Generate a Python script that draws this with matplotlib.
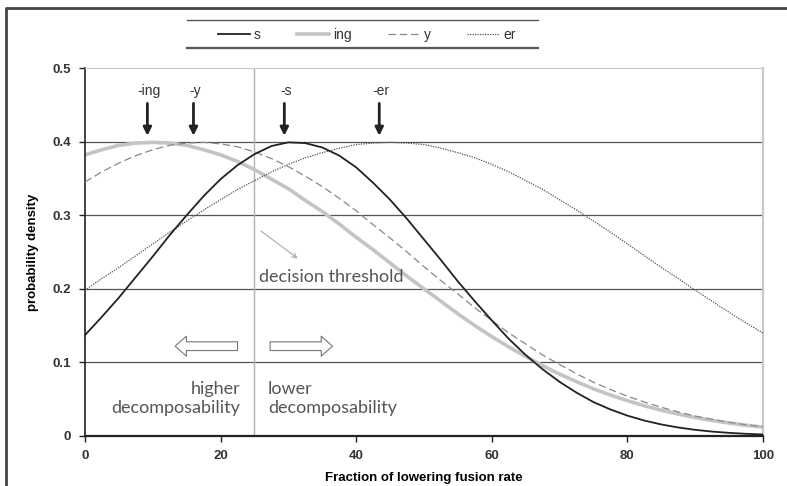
import numpy as np
import matplotlib
matplotlib.use('Agg')
import matplotlib.pyplot as plt
from matplotlib.lines import Line2D

# fraction of lowering fusion rate (x) and densities
x = [0, 2.5, 5, 7.5, 10, 12.5, 15, 17.5, 20, 22.5, 25, 27.5, 30, 32.5, 35, 37.5, 40,
     42.5, 45, 47.5, 50, 52.5, 55, 57.5, 60, 62.5, 65, 67.5, 70, 72.5, 75, 77.5, 80,
     82.5, 85, 87.5, 90, 92.5, 95, 97.5, 100]
s = [0.137, 0.162, 0.188, 0.216, 0.244, 0.273, 0.300, 0.326, 0.349, 0.368, 0.383,
     0.394, 0.399, 0.398, 0.392, 0.381, 0.365, 0.344, 0.321, 0.295, 0.267, 0.239,
     0.210, 0.183, 0.157, 0.132, 0.110, 0.0906, 0.0735, 0.0588, 0.046, 0.036, 0.0276,
     0.0209, 0.0156, 0.0115, 0.0083, 0.0059, 0.0042, 0.0029, 0.0020]
ing = [0.382, 0.389, 0.395, 0.398, 0.399, 0.398, 0.395, 0.389, 0.382, 0.373, 0.362,
       0.349, 0.336, 0.320, 0.305, 0.288, 0.270, 0.253, 0.235, 0.217, 0.200, 0.183,
       0.166, 0.150, 0.135, 0.121, 0.108, 0.0955, 0.084, 0.0737, 0.064, 0.0556, 0.048,
       0.041, 0.035, 0.0297, 0.025, 0.021, 0.0175, 0.0145, 0.012]
y = [0.345, 0.359, 0.371, 0.381, 0.389, 0.395, 0.398, 0.399, 0.397, 0.393, 0.386,
     0.377, 0.366, 0.353, 0.339, 0.323, 0.306, 0.287, 0.269, 0.250, 0.230, 0.211,
     0.193, 0.174, 0.157, 0.140, 0.125, 0.110, 0.097, 0.0845, 0.073, 0.063, 0.054,
     0.046, 0.039, 0.0326, 0.027, 0.0226, 0.0186, 0.0152, 0.0124]
er = [0.198, 0.214, 0.229, 0.245, 0.261, 0.277, 0.292, 0.307, 0.321, 0.335, 0.347,
      0.359, 0.369, 0.378, 0.385, 0.391, 0.396, 0.398, 0.399, 0.398, 0.396, 0.391,
      0.385, 0.378, 0.369, 0.359, 0.347, 0.335, 0.321, 0.307, 0.292, 0.277, 0.261,
      0.245, 0.229, 0.214, 0.198, 0.183, 0.168, 0.1535, 0.140]

peak_labels = ['-ing', '-y', '-s', '-er']
peak_x = [9.2, 16.0, 29.4, 43.4]
threshold = 25

f = plt.figure(figsize=(7.87, 4.86), dpi=100)
ax = f.add_axes([0.108, 0.103, 0.8615, 0.757])

for g in [0.1, 0.2, 0.3, 0.4]:
    ax.axhline(g, c='#555555', lw=0.9, zorder=1)
ax.axvline(threshold, c='#b0b0b0', lw=1.0, zorder=1)

ax.plot(x, ing, c='#c4c4c4', lw=2.6, label='ing', zorder=2)
ax.plot(x, y, c='#888888', lw=0.9, ls=(0, (6, 3)), label='y', zorder=3)
ax.plot(x, er, c='#555555', lw=0.9, ls=(0, (1, 1)), label='er', zorder=3)
ax.plot(x, s, c='#222222', lw=1.3, label='s', zorder=4)

ax.set_xlim(0, 100)
ax.set_ylim(0, 0.5)
ax.set_xticks([0, 20, 40, 60, 80, 100])
ax.set_yticks([0, 0.1, 0.2, 0.3, 0.4, 0.5])
ax.set_yticklabels(['0', '0.1', '0.2', '0.3', '0.4', '0.5'])
ax.tick_params(direction='out', length=4, width=1, colors='#222222', labelsize=9.5, pad=6)
for lab in ax.get_xticklabels() + ax.get_yticklabels():
    lab.set_fontweight('bold')
    lab.set_color('#333333')
    lab.set_family('Liberation Sans')
ax.spines['left'].set_color('#222222')
ax.spines['bottom'].set_color('#222222')
ax.spines['left'].set_linewidth(1.2)
ax.spines['bottom'].set_linewidth(1.6)
ax.spines['top'].set_color('#c8c8c8')
ax.spines['right'].set_color('#c8c8c8')
ax.spines['right'].set_linewidth(1.5)

ax.set_xlabel('Fraction of lowering fusion rate', fontsize=9.5, fontweight='bold',
              family='Liberation Sans', labelpad=7)
ax.set_ylabel('probability density', fontsize=9.5, fontweight='bold',
              family='Liberation Sans', labelpad=10)

# peak arrows
for lab, px in zip(peak_labels, peak_x):
    ax.annotate('', xy=(px, 0.408), xytext=(px, 0.452),
                arrowprops=dict(arrowstyle='-|>', color='#222222', lw=2.0,
                                mutation_scale=12, shrinkA=0, shrinkB=0))
    ax.text(px + 0.3, 0.459, lab, ha='center', va='bottom', fontsize=10,
            family='Liberation Sans', color='#333333')

# decision threshold
ax.annotate('', xy=(31.7, 0.239), xytext=(25.6, 0.281),
            arrowprops=dict(arrowstyle='->', color='#aaaaaa', lw=0.8, mutation_scale=8))
ax.text(25.6, 0.216, 'decision threshold', fontsize=13, family='Lato', color='#555555',
        va='center', ha='left')

# hollow direction arrows
ax.annotate('', xy=(13.3, 0.122), xytext=(22.5, 0.122),
            arrowprops=dict(arrowstyle='simple,head_width=1.6,head_length=0.9,tail_width=0.7',
                            fc='white', ec='#777777', lw=0.8, mutation_scale=9,
                            shrinkA=0, shrinkB=0))
ax.annotate('', xy=(36.5, 0.122), xytext=(27.3, 0.122),
            arrowprops=dict(arrowstyle='simple,head_width=1.6,head_length=0.9,tail_width=0.7',
                            fc='white', ec='#777777', lw=0.8, mutation_scale=9,
                            shrinkA=0, shrinkB=0))
ax.text(22.9, 0.051, 'higher\ndecomposability', fontsize=13, family='Lato', color='#555555',
        ha='right', va='center', linespacing=1.25)
ax.text(27.0, 0.051, 'lower\ndecomposability', fontsize=13, family='Lato', color='#555555',
        ha='left', va='center', linespacing=1.25)

# legend
h, l = ax.get_legend_handles_labels()
order = [3, 0, 1, 2]
leg = f.legend([h[i] for i in order], [l[i] for i in order], loc='center',
               bbox_to_anchor=(0.466, 0.928), ncol=4, frameon=False,
               handlelength=2.3, columnspacing=2.6, handletextpad=0.3,
               prop={'family': 'Liberation Sans', 'size': 10})
for t in leg.get_texts():
    t.set_color('#333333')
f.add_artist(Line2D([0.238, 0.684], [0.959, 0.959], color='#555555', lw=1.0))
f.add_artist(Line2D([0.238, 0.684], [0.901, 0.901], color='#555555', lw=1.6))

# figure border
f.add_artist(Line2D([0.008, 0.008, 1.0], [0.0, 0.984, 0.984], color='#444444', lw=2.0))

f.savefig('out.png', dpi=100)
